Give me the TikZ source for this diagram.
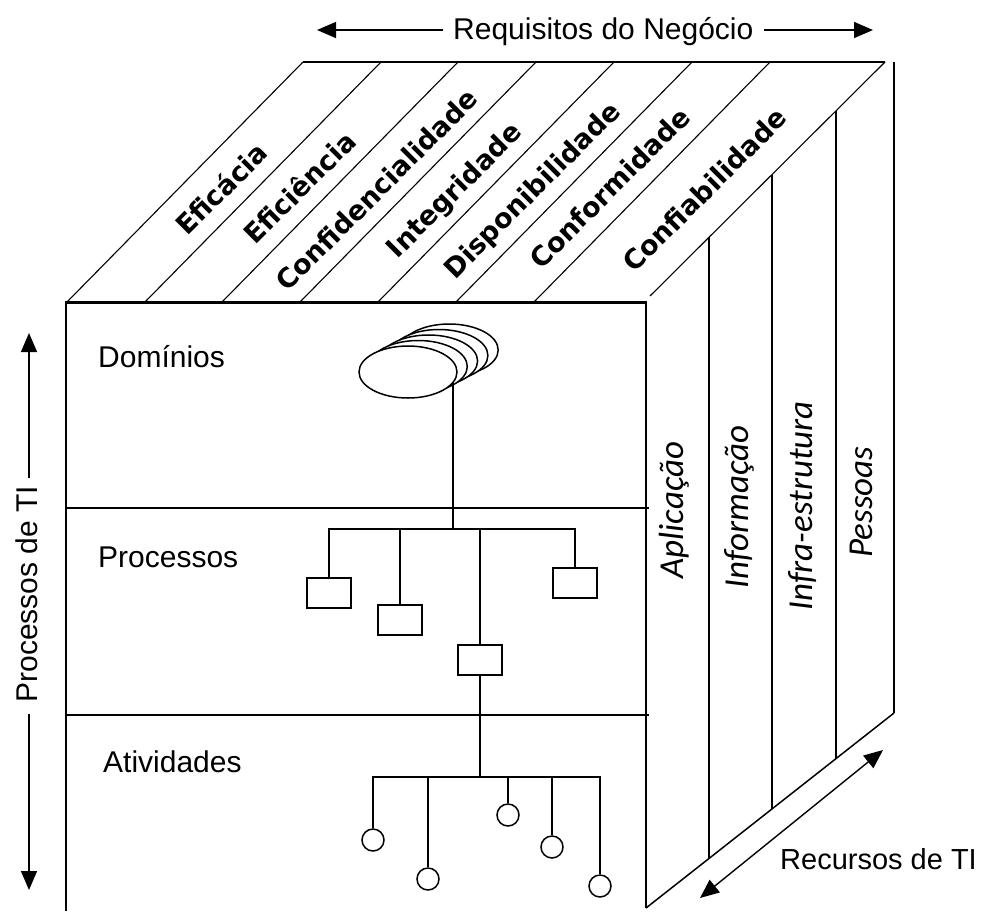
\documentclass[tikz,border=0pt]{standalone}
\usepackage{fontspec}
\setmainfont{Liberation Sans}
\newfontfamily\stripefont{DejaVu Sans}
\newfontfamily\resfont{Carlito}
\usetikzlibrary{arrows.meta,shapes.geometric,calc}

\begin{document}
\begin{tikzpicture}[x=1pt,y=-1pt,
  edge/.style={line width=1.5pt},
  fineedge/.style={line width=1.1pt},
  lbl/.style={font=\fontsize{30}{36}\selectfont, inner sep=0pt},
  crit/.style={font=\stripefont\bfseries\fontsize{27}{32}\selectfont, rotate=45,
    inner sep=0pt, text height=19pt, text depth=0pt, anchor=center},
  res/.style={font=\resfont\itshape\fontsize{35}{40}\selectfont, rotate=90,
    inner sep=0pt, anchor=base},
  tip/.style={-{Triangle[length=19pt,width=16pt]}, line width=1.4pt},
  twotip/.style={{Triangle[length=19pt,width=16pt]}-{Triangle[length=19pt,width=16pt]}, line width=1.4pt},
  pbox/.style={draw, line width=1.5pt, fill=white, minimum width=44pt,
    minimum height=30pt, inner sep=0pt},
  act/.style={circle, draw, line width=1.5pt, fill=white, minimum size=22pt, inner sep=0pt},
  dom/.style={ellipse, draw, line width=1.5pt, fill=white, minimum width=98pt,
    minimum height=52pt, inner sep=0pt},
]
\fill[white] (0,0) rectangle (993,911);
\useasboundingbox (0,0) rectangle (993,911);

% ---- top face: business requirements ----
\draw[edge] (303,62) -- (885,62);
\foreach \X in {303,381,458,536,614,692,770}
  \draw[fineedge] (\X,62) -- ({\X-236},302);
\draw[fineedge] (885,62) -- (650,296);

\node[crit] (t1) at (222,189) {Eficácia};
\node[crit] (t2) at (300,188) {Eficiência};
\node[crit] (t3) at (377,190) {Confidencialidade};
\node[crit] (t4) at (454,190) {Integridade};
\node[crit] (t5) at (532,190) {Disponibilidade};
\node[crit] (t6) at (610,188) {Conformidade};
\node[crit] (t7) at (705,190) {Confiabilidade};

% ---- right face: IT resources ----
\draw[edge] (894,62) -- (894,713);
\draw[edge] (646,908) -- (894,713);
\draw[edge] (709,237) -- (709,859);
\draw[edge] (772,175) -- (772,809);
\draw[edge] (836,111) -- (836,759);

\node[res] (r1) at (683,510) {Aplicação};
\node[res] (r2) at (748,507) {Informação};
\node[res] (r3) at (812,506) {Infra-estrutura};
\node[res] (r4) at (872,502) {Pessoas};

% ---- front face: IT processes ----
\draw[line width=1.9pt] (66,302) -- (66,911);
\draw[line width=1.9pt] (646,302) -- (646,908);
\draw[edge] (66,508) -- (649,508);
\draw[edge] (66,715) -- (649,715);
\draw[line width=3pt] (65,302) -- (647,302);

\node[lbl, anchor=base west] (ldom)  at (98,367) {Domínios};
\node[lbl, anchor=base west] (lproc) at (98,567) {Processos};
\node[lbl, anchor=base west] (lact)  at (103,772) {Atividades};

% stacked domains
\foreach \k in {4,3,2,1}
  \draw[edge, fill=white] ({408+10.3*\k},{372-5.5*\k}) ellipse [x radius=49pt, y radius=26pt];
\node[dom] (dmn) at (408,372) {};

% processes
\coordinate (hub) at (453,529);
\node[pbox] (p1) at (329,593) {};
\node[pbox] (p2) at (400,620) {};
\node[pbox] (p3) at (480,660) {};
\node[pbox] (p4) at (575,583) {};
\draw[edge] (hub |- dmn.-12.5) -- (hub);
\draw[edge] (p1.north) -- (p1.north |- hub) -- (p4.north |- hub) -- (p4.north);
\draw[edge] (p2.north) -- (p2.north |- hub);
\draw[edge] (p3.north) -- (p3.north |- hub);

% activities
\coordinate (abar) at (480,777);
\node[act] (c1) at (373,840) {};
\node[act] (c2) at (428,879) {};
\node[act] (c3) at (508,815) {};
\node[act] (c4) at (552,847) {};
\node[act] (c5) at (600,886) {};
\draw[edge] (p3.south) -- (p3.south |- abar);
\draw[edge] (c1.north) -- (c1.north |- abar) -- (c5.north |- abar) -- (c5.north);
\draw[edge] (c2.north) -- (c2.north |- abar);
\draw[edge] (c3.north) -- (c3.north |- abar);
\draw[edge] (c4.north) -- (c4.north |- abar);

% ---- axis labels with arrows ----
\node[lbl, anchor=base west] (reqt) at (453,39) {Requisitos do Negócio};
\coordinate (reqL) at (317,30);
\coordinate (reqR) at (873,30);
\draw[tip] ($(reqt.west |- reqL)+(-10,0)$) -- (reqL);
\draw[tip] ($(reqt.east |- reqR)+(10,0)$) -- (reqR);

\node[lbl, rotate=90, anchor=base] (proct) at (37,594) {Processos de TI};
\coordinate (procU) at (29,333);
\coordinate (procD) at (29,890);
\draw[tip] ($(procU |- proct.east)+(0,-7)$) -- (procU);
\draw[tip] ($(procD |- proct.west)+(0,11)$) -- (procD);

\node[lbl, anchor=base west, font=\fontsize{29}{34}\selectfont] (rect) at (780,869) {Recursos de TI};
\coordinate (resA) at (700,898);
\coordinate (resB) at (883,750);
\draw[twotip] (resA) -- (resB);
\end{tikzpicture}
\end{document}
